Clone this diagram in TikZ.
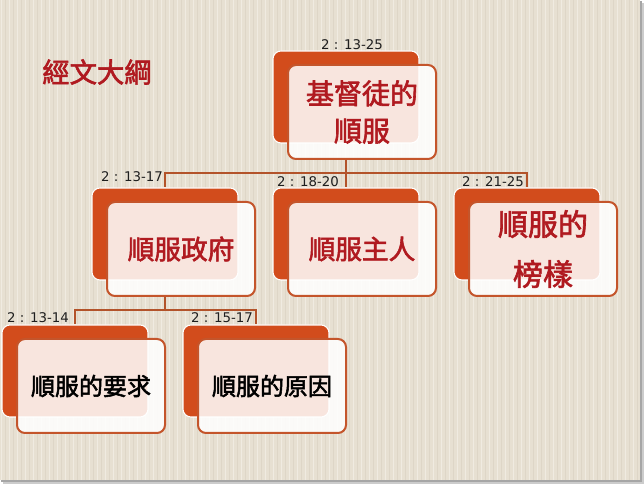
\documentclass[tikz,border=0pt]{standalone}
\usepackage{fontspec}
\setmainfont{DejaVu Sans}
\newfontfamily\cjk{Noto Sans CJK TC}[AutoFakeBold=2.2]
\definecolor{bgbeige}{HTML}{E7E0D2}
\definecolor{stripelight}{HTML}{F0EBE1}
\definecolor{stripedark}{HTML}{DED6C7}
\definecolor{backorange}{HTML}{D24C1C}
\definecolor{frontborder}{HTML}{C4552B}
\definecolor{connbrown}{HTML}{B3532A}
\definecolor{titlered}{HTML}{B01A20}
\definecolor{labelgray}{HTML}{1E1E1E}
\begin{document}
\begin{tikzpicture}[x=0.75pt,y=-0.75pt,
  backbox/.style={draw=white, line width=0.8pt, fill=backorange, rounded corners=6pt,
    minimum width=109.5pt, minimum height=69pt, inner sep=0pt},
  frontbox/.style={draw=frontborder, line width=1.5pt, fill=white, fill opacity=0.86,
    text opacity=1, rounded corners=6pt, minimum width=111pt, minimum height=70.5pt,
    inner sep=0pt, align=center},
  redtext/.style={text=titlered, font=\cjk\bfseries\fontsize{20pt}{24pt}\selectfont},
  blacktext/.style={text=black, font=\cjk\bfseries\fontsize{18pt}{22pt}\selectfont},
  lbl/.style={text=labelgray, font=\fontsize{10pt}{12pt}\selectfont, inner sep=0pt},
  conn/.style={draw=connbrown, line width=1.3pt}]
\useasboundingbox (0,0) rectangle (644,484);
% slide shadow
\fill[gray!40] (3,3) rectangle (644,484);
\fill[gray!70] (1,1) rectangle (642,482);
% slide background with stripes
\fill[bgbeige] (0,0) rectangle (640,480);
\foreach \i in {0,...,79}{
  \draw[stripelight, line width=0.75pt] (\i*8+1.5,0) -- (\i*8+1.5,480);
  \draw[stripedark, line width=0.75pt] (\i*8+5.5,0) -- (\i*8+5.5,480);
}
% title
\node[text=titlered, font=\cjk\bfseries\fontsize{20.5pt}{24pt}\selectfont, inner sep=0pt] (title) at (97,72) {經文大綱};
% back boxes
\node[backbox] (topb) at (346,97) {};
\node[backbox] (Ab) at (165,234) {};
\node[backbox] (Bb) at (346,234) {};
\node[backbox] (Cb) at (527,234) {};
\node[backbox] (Db) at (75,371) {};
\node[backbox] (Eb) at (256,371) {};
% front boxes
\node[frontbox, redtext, font=\cjk\bfseries\fontsize{21pt}{28pt}\selectfont] (topf) at (362,112) {基督徒的\\順服};
\node[frontbox, redtext] (Af) at (181,249) {順服政府};
\node[frontbox, redtext] (Bf) at (362,249) {順服主人};
\node[frontbox, redtext, font=\cjk\bfseries\fontsize{22.5pt}{37.5pt}\selectfont] (Cf) at (543,249) {順服的\\榜樣};
\node[frontbox, blacktext] (Df) at (91,386) {順服的要求};
\node[frontbox, blacktext] (Ef) at (272,386) {順服的原因};
% connectors
\coordinate (hub1) at (346,173);
\coordinate (hub2) at (165,310);
\draw[conn] (topb.south |- topf.south) -- (hub1);
\draw[conn] (hub1) -| (Ab.north);
\draw[conn] (hub1) -- (Bb.north);
\draw[conn] (hub1) -| (Cb.north);
\draw[conn] (Ab.south |- Af.south) -- (hub2);
\draw[conn] (hub2) -| (Db.north);
\draw[conn] (hub2) -| (Eb.north);
% labels
\node[lbl] (ltop) at (352,45) {2 : 13-25};
\node[lbl] (lA) at (132,177) {2 : 13-17};
\node[lbl] (lB) at (308,182) {2 : 18-20};
\node[lbl] (lC) at (493,182) {2 : 21-25};
\node[lbl] (lD) at (38,318) {2 : 13-14};
\node[lbl] (lE) at (222,318) {2 : 15-17};
\end{tikzpicture}
\end{document}
